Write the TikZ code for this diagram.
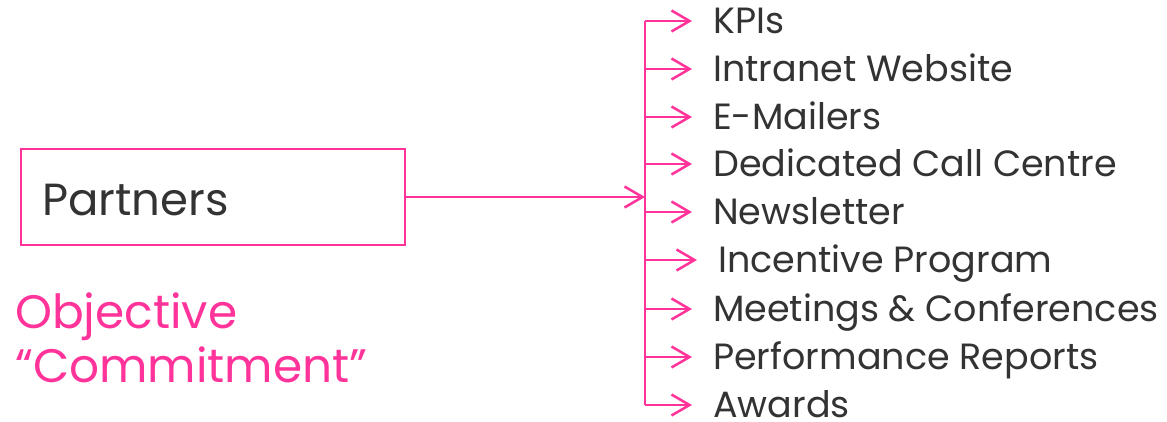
\documentclass[tikz,border=0pt]{standalone}
\usepackage{fontspec}
\setmainfont{Poppins}
\usetikzlibrary{arrows.meta}
\definecolor{hotpink}{RGB}{255,51,153}
\definecolor{txtgray}{RGB}{51,51,51}
\begin{document}
\begin{tikzpicture}[x=1pt,y=-1pt,
  link/.style={draw=hotpink,line width=2.5pt},
  tip/.style={-{Straight Barb[length=18pt,width=21pt,line width=2.5pt]}},
  item/.style={anchor=base west,inner sep=0pt,text=txtgray,font=\fontsize{36.5}{40}\selectfont},
  mainbox/.style={draw=hotpink,line width=2.5pt,minimum width=384pt,minimum height=96pt,inner sep=0pt},
  objtext/.style={anchor=base west,inner sep=0pt,text=hotpink,font=\fontsize{47}{54}\selectfont,align=left}]
\useasboundingbox (0,0) rectangle (1167,421);
\node[mainbox] (box) at (213,197) {};
\node[anchor=base west,inner sep=0pt,text=txtgray,font=\fontsize{45}{54}\selectfont] (partners) at (42,215) {Partners};
\node[objtext] (obj1) at (15,328) {Objective};
\node[objtext] (obj2) at (15,382) {“Commitment”};
\coordinate (top) at (645,21);
\coordinate (bot) at (645,405);
\coordinate (hub) at (645,197);
\draw[link] (top) -- (bot);
\draw[link,tip] (box.east) -- (hub);
\foreach \n/\y/\x/\t in {a/21/713/KPIs,b/69/713/Intranet Website,c/117/713/E-Mailers,d/164/713/Dedicated Call Centre,e/212/713/Newsletter,f/260/718/Incentive Program,g/309/713/Meetings \& Conferences,h/357/713/Performance Reports,i/405/713/Awards}{
  \node[item] (\n) at (\x,\y+12) {\t};
  \coordinate (s\n) at (645,\y);
  \draw[link,tip,shorten >=21pt] (s\n) -- (s\n -| \n.west);
}
\end{tikzpicture}
\end{document}
